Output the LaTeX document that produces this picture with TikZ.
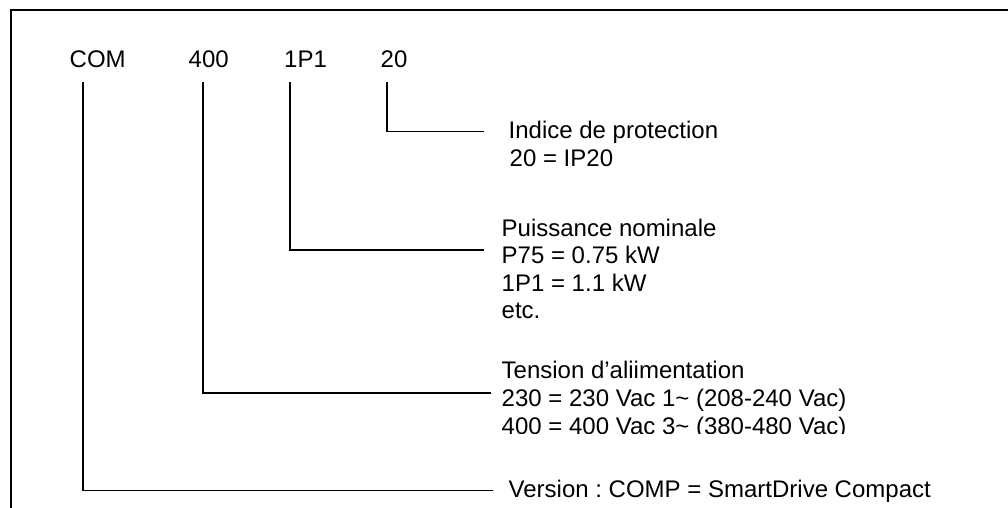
\documentclass[tikz,border=0pt]{standalone}
\usepackage{fontspec}
\setmainfont{Liberation Sans}
\frenchspacing
\begin{document}
\begin{tikzpicture}[x=1pt,y=-1pt,
  txt/.style={inner sep=0pt, anchor=base west, font=\fontsize{24}{27.5}\selectfont},
  conn/.style={line width=1.8pt, line cap=rect},
  frame/.style={line width=2pt}]
\useasboundingbox (0,0) rectangle (1008,508);
% frame (only top and left edges visible)
\coordinate (ftl) at (11,10.5);
\coordinate (ftr) at (1010,10.5);
\coordinate (fbl) at (11,510);
\draw[frame] (fbl) -- (ftl) -- (ftr);
% code parts
\node[txt] (com) at (69.5,68) {COM};
\node[txt] (v400) at (188.5,68) {400};
\node[txt] (p1p1) at (284,68) {1P1};
\node[txt] (ip20) at (380.5,68) {20};
% descriptions
\node[txt] (ind1) at (508.5,139) {Indice de protection};
\node[txt] (ind2) at (509.5,166.5) {20 = IP20};
\node[txt] (pui1) at (501.5,236) {Puissance nominale};
\node[txt] (pui2) at (501.5,263.5) {P75 = 0.75 kW};
\node[txt] (pui3) at (501.5,291) {1P1 = 1.1 kW};
\node[txt] (pui4) at (501.5,318.5) {etc.};
\node[txt] (ten1) at (501.5,378) {Tension d’aliimentation};
\node[txt] (ten2) at (501.5,406) {230 = 230 Vac 1\textasciitilde{} (208-240 Vac)};
\begin{scope}
\clip (490,410) rectangle (1000,433);
\node[txt] (ten3) at (501.5,434) {400 = 400 Vac 3\textasciitilde{} (380-480 Vac)};
\end{scope}
\node[txt] (ver) at (508.5,497) {Version : COMP = SmartDrive Compact};
% connector start / end points
\coordinate (s1) at (83,83);
\coordinate (s2) at (203,83);
\coordinate (s3) at (290,83);
\coordinate (s4) at (387,83);
\coordinate (e4) at (483,131.5);
\coordinate (e3) at (483,250);
\coordinate (e2) at (490,393);
\coordinate (e1) at (492,490.5);
\draw[conn] (s4) |- (e4);
\draw[conn] (s3) |- (e3);
\draw[conn] (s2) |- (e2);
\draw[conn] (s1) |- (e1);
\end{tikzpicture}
\end{document}
